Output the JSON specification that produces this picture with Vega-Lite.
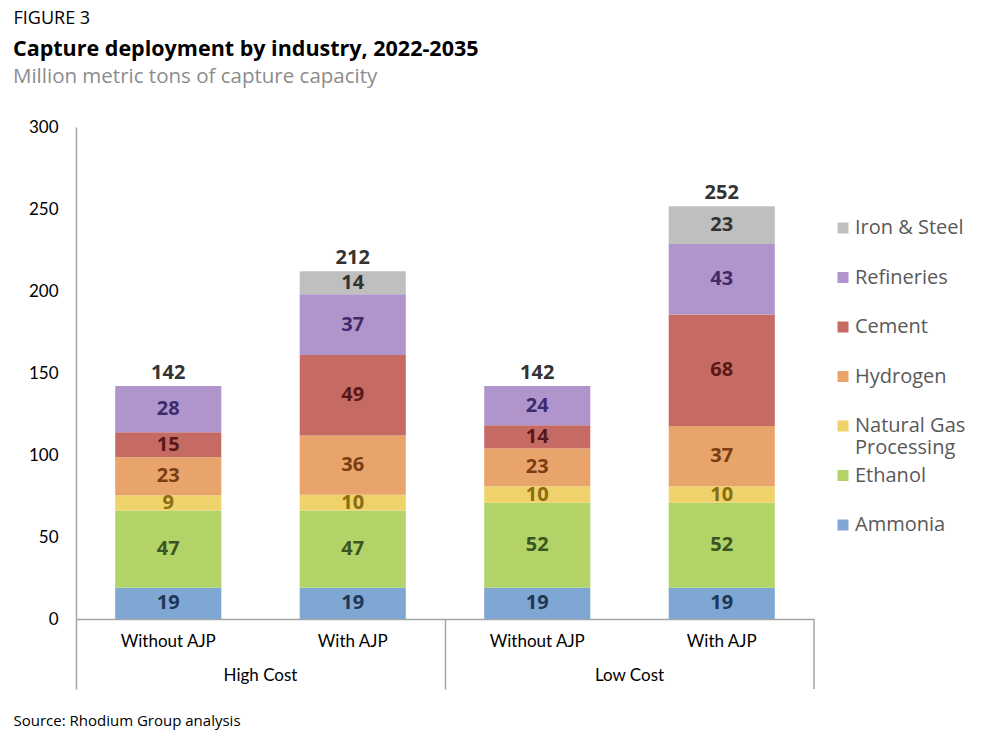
{
  "$schema": "https://vega.github.io/schema/vega-lite/v6.json",
  "width": 738,
  "height": 492,
  "autosize": {"type": "none"},
  "padding": {"left": 76, "top": 127, "right": 170, "bottom": 127},
  "background": "white",
  "config": {"view": {"stroke": null}, "font": "Open Sans"},
  "title": {
    "text": "Capture deployment by industry, 2022-2035",
    "subtitle": "Million metric tons of capture capacity",
    "anchor": "start",
    "frame": "group",
    "dx": -63,
    "offset": -78,
    "font": "Open Sans",
    "fontSize": 21.5,
    "fontWeight": "bold",
    "color": "#000000",
    "subtitleFont": "Open Sans",
    "subtitleFontSize": 20.5,
    "subtitleColor": "#8c8c8c",
    "subtitlePadding": 6
  },
  "data": {
    "values": [
      {"cost": "High Cost", "scenario": "Without AJP", "industry": "Ammonia", "rank": 1, "value": 19.1},
      {"cost": "High Cost", "scenario": "Without AJP", "industry": "Ethanol", "rank": 2, "value": 47.0},
      {"cost": "High Cost", "scenario": "Without AJP", "industry": "Natural Gas Processing", "rank": 3, "value": 9.4},
      {"cost": "High Cost", "scenario": "Without AJP", "industry": "Hydrogen", "rank": 4, "value": 23.2},
      {"cost": "High Cost", "scenario": "Without AJP", "industry": "Cement", "rank": 5, "value": 15.1},
      {"cost": "High Cost", "scenario": "Without AJP", "industry": "Refineries", "rank": 6, "value": 28.2},
      {"cost": "High Cost", "scenario": "With AJP", "industry": "Ammonia", "rank": 1, "value": 19.1},
      {"cost": "High Cost", "scenario": "With AJP", "industry": "Ethanol", "rank": 2, "value": 47.0},
      {"cost": "High Cost", "scenario": "With AJP", "industry": "Natural Gas Processing", "rank": 3, "value": 9.6},
      {"cost": "High Cost", "scenario": "With AJP", "industry": "Hydrogen", "rank": 4, "value": 36.2},
      {"cost": "High Cost", "scenario": "With AJP", "industry": "Cement", "rank": 5, "value": 49.1},
      {"cost": "High Cost", "scenario": "With AJP", "industry": "Refineries", "rank": 6, "value": 37.0},
      {"cost": "High Cost", "scenario": "With AJP", "industry": "Iron & Steel", "rank": 7, "value": 14.0},
      {"cost": "Low Cost", "scenario": "Without AJP", "industry": "Ammonia", "rank": 1, "value": 19.1},
      {"cost": "Low Cost", "scenario": "Without AJP", "industry": "Ethanol", "rank": 2, "value": 51.8},
      {"cost": "Low Cost", "scenario": "Without AJP", "industry": "Natural Gas Processing", "rank": 3, "value": 10.0},
      {"cost": "Low Cost", "scenario": "Without AJP", "industry": "Hydrogen", "rank": 4, "value": 23.2},
      {"cost": "Low Cost", "scenario": "Without AJP", "industry": "Cement", "rank": 5, "value": 14.0},
      {"cost": "Low Cost", "scenario": "Without AJP", "industry": "Refineries", "rank": 6, "value": 24.0},
      {"cost": "Low Cost", "scenario": "With AJP", "industry": "Ammonia", "rank": 1, "value": 19.1},
      {"cost": "Low Cost", "scenario": "With AJP", "industry": "Ethanol", "rank": 2, "value": 51.8},
      {"cost": "Low Cost", "scenario": "With AJP", "industry": "Natural Gas Processing", "rank": 3, "value": 10.0},
      {"cost": "Low Cost", "scenario": "With AJP", "industry": "Hydrogen", "rank": 4, "value": 36.8},
      {"cost": "Low Cost", "scenario": "With AJP", "industry": "Cement", "rank": 5, "value": 68.0},
      {"cost": "Low Cost", "scenario": "With AJP", "industry": "Refineries", "rank": 6, "value": 43.0},
      {"cost": "Low Cost", "scenario": "With AJP", "industry": "Iron & Steel", "rank": 7, "value": 23.0}
    ]
  },
  "transform": [
    {"stack": "value", "groupby": ["cost", "scenario"], "sort": [{"field": "rank", "order": "ascending"}], "as": ["v0", "v1"]},
    {"calculate": "(datum.v0 + datum.v1) / 2", "as": "mid"}
  ],
  "encoding": {
    "x": {
      "field": "cost",
      "type": "nominal",
      "sort": ["High Cost", "Low Cost"],
      "scale": {"paddingInner": 0, "paddingOuter": 0},
      "axis": {
        "title": "Source: Rhodium Group analysis",
        "titleX": -63,
        "titleY": 101,
        "titleAngle": 0,
        "titleAlign": "left",
        "titleBaseline": "middle",
        "titleFont": "Open Sans",
        "titleFontSize": 15,
        "titleFontWeight": "normal",
        "titleColor": "#000000",
        "labelAngle": 0,
        "labelFont": "Lato",
        "labelFontSize": 17,
        "labelColor": "#000000",
        "labelPadding": -22,
        "bandPosition": 0,
        "tickSize": 70,
        "tickColor": "#a6a6a6",
        "tickWidth": 1.5,
        "domainColor": "#a6a6a6",
        "domainWidth": 1.5
      }
    },
    "xOffset": {
      "field": "scenario",
      "type": "nominal",
      "sort": ["Without AJP", "With AJP"],
      "scale": {"paddingInner": 0.425, "paddingOuter": 0.2125}
    }
  },
  "layer": [
    {
      "mark": {"type": "bar"},
      "encoding": {
        "y": {
          "field": "v0",
          "type": "quantitative",
          "scale": {"domain": [0, 300], "nice": false},
          "axis": {
            "title": "FIGURE 3",
            "titleX": -63,
            "titleY": -109,
            "titleAngle": 0,
            "titleAlign": "left",
            "titleBaseline": "middle",
            "titleFont": "Open Sans",
            "titleFontSize": 18,
            "titleFontWeight": "normal",
            "titleColor": "#000000",
            "values": [0, 50, 100, 150, 200, 250, 300],
            "grid": false,
            "ticks": false,
            "labelFont": "Lato",
            "labelFontSize": 17,
            "labelColor": "#000000",
            "labelPadding": 18,
            "domainColor": "#a6a6a6",
            "domainWidth": 1.5
          }
        },
        "y2": {"field": "v1"},
        "color": {
          "field": "industry",
          "type": "nominal",
          "scale": {
            "domain": ["Iron & Steel", "Refineries", "Cement", "Hydrogen", "Natural Gas Processing", "Ethanol", "Ammonia"],
            "range": ["#bfbfbf", "#b095cc", "#c66b64", "#e8a46b", "#efd26a", "#b2d368", "#7ea7d3"]
          },
          "legend": {
            "title": null,
            "orient": "none",
            "legendX": 757,
            "legendY": 91,
            "padding": 0,
            "symbolType": "square",
            "symbolSize": 121,
            "symbolStrokeWidth": 0,
            "labelFont": "Open Sans",
            "labelFontSize": 20,
            "labelColor": "#595959",
            "labelOffset": 2,
            "labelLimit": 200,
            "rowPadding": 7.5,
            "labelExpr": "datum.label == 'Natural Gas Processing' ? ['Natural Gas', 'Processing'] : [datum.label, ' ']"
          }
        }
      }
    },
    {
      "mark": {"type": "text", "font": "Open Sans", "fontSize": 20, "fontWeight": "bold", "baseline": "middle"},
      "encoding": {
        "y": {"field": "mid", "type": "quantitative"},
        "text": {"field": "value", "type": "quantitative", "format": ".0f"},
        "color": {
          "field": "industry",
          "type": "nominal",
          "scale": {
            "domain": ["Iron & Steel", "Refineries", "Cement", "Hydrogen", "Natural Gas Processing", "Ethanol", "Ammonia"],
            "range": ["#333333", "#3f2b6b", "#5a1717", "#7a3d12", "#8a6d12", "#3b5520", "#1f3655"]
          },
          "legend": null
        }
      }
    },
    {
      "mark": {"type": "text", "font": "Open Sans", "fontSize": 20, "fontWeight": "bold", "baseline": "middle", "dy": -13, "color": "#333333"},
      "encoding": {
        "y": {"aggregate": "sum", "field": "value", "type": "quantitative"},
        "text": {"aggregate": "sum", "field": "value", "type": "quantitative", "format": ".0f"}
      }
    },
    {
      "transform": [{"filter": "datum.industry == 'Ammonia'"}],
      "mark": {"type": "text", "font": "Lato", "fontSize": 17, "baseline": "middle", "dy": 23, "color": "#000000"},
      "encoding": {
        "y": {"datum": 0, "type": "quantitative"},
        "text": {"field": "scenario", "type": "nominal"}
      }
    },
    {
      "transform": [{"filter": "datum.industry == 'Ammonia' && datum.cost == 'Low Cost' && datum.scenario == 'With AJP'"}],
      "mark": {"type": "rule", "color": "#a6a6a6", "strokeWidth": 1.5},
      "encoding": {
        "x": {"datum": "Low Cost", "type": "nominal", "bandPosition": 1},
        "xOffset": null,
        "y": {"datum": 0, "type": "quantitative"},
        "y2": {"datum": -42.7}
      }
    }
  ],
  "resolve": {"scale": {"color": "independent"}}
}
